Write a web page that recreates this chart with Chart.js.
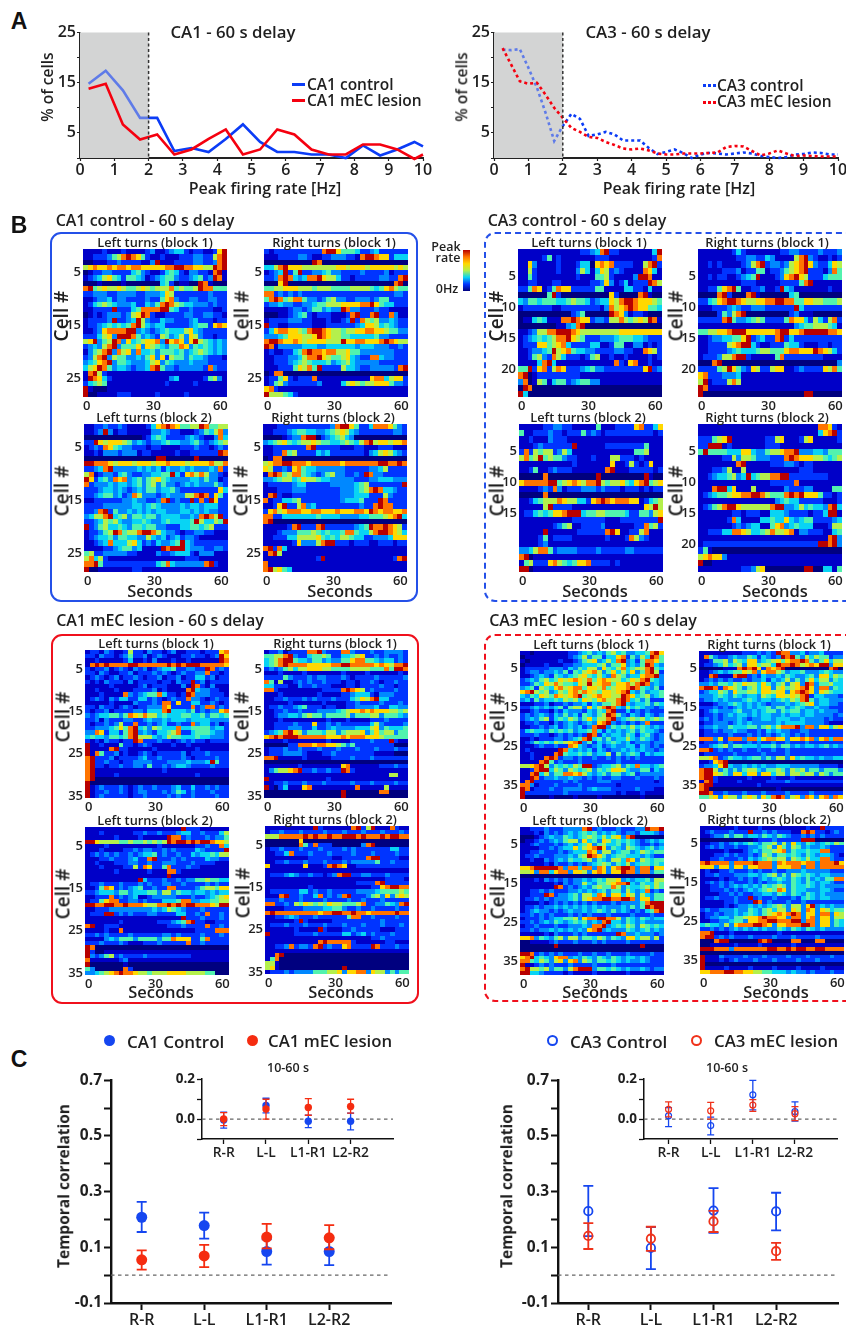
<!DOCTYPE html>
<html>
<head>
<meta charset="utf-8">
<title>Peak firing rate and temporal correlation</title>
<script src="https://cdn.jsdelivr.net/npm/chart.js@4"></script>
<style>
html, body { margin: 0; padding: 0; background: #fff; overflow: hidden; }
#page { position: relative; width: 846px; height: 1327px; overflow: hidden; font-family: "Open Sans", sans-serif; color: #1f1f1f; }
canvas { position: absolute; }
.txt { position: absolute; white-space: nowrap; transform: translate(-50%, -50%); font-weight: 600; line-height: 1; }
.box { position: absolute; box-sizing: border-box; border-radius: 11px; }
</style>
</head>
<body>
<div id="page"></div>
<script>
// panel A
const ca1Bins = [0.25, 0.75, 1.25, 1.75, 2.25, 2.75, 3.25, 3.75, 4.25, 4.75, 5.25, 5.75, 6.25, 6.75, 7.25, 7.75, 8.25, 8.75, 9.25, 9.75, 10];
const ca1Control = [14.8, 17.4, 13.5, 8, 8, 1.4, 2, 1.2, 3.8, 6.7, 3.2, 1.2, 1.2, 0.7, 0.7, 0, 2.5, 0.5, 1.7, 3.2, 2.3];
const ca1Lesion = [13.8, 14.8, 6.7, 3.7, 4.7, 0.7, 1.7, 3.8, 5.7, 0.7, 1.7, 5.7, 4.7, 1.7, 0.7, 0.7, 2.7, 2.7, 1.7, -0.2, 0.7];
const ca3Bins = [0.25, 0.5, 0.75, 1, 1.25, 1.5, 1.75, 2, 2.25, 2.5, 2.75, 3, 3.25, 3.5, 3.75, 4, 4.25, 4.5, 4.75, 5, 5.25, 5.5, 5.75, 6, 6.25, 6.5, 6.75, 7, 7.25, 7.5, 7.75, 8, 8.25, 8.5, 8.75, 9, 9.25, 9.5, 9.75, 10];
const ca3Control = [21.6, 21.5, 21.7, 18, 14, 9, 3.4, 6.4, 8.8, 7.8, 4.4, 4.7, 5.2, 4.7, 3.5, 3.5, 3.5, 2, 0.8, 1.2, 1.7, 1, 0, 0.7, 1, 0.9, 0.7, 0.9, 1.1, 0.9, 0.4, 0.2, 0, 0.2, 0.7, 0.8, 1.1, 1, 0.7, 0.7];
const ca3Lesion = [21.9, 18.6, 15.3, 14.8, 15, 12.6, 10, 8, 6, 5.2, 4.2, 4, 3.2, 2.6, 1.9, 1.7, 1.9, 1.5, 0.9, 0.7, 0.7, 0.9, 0.9, 0.9, 1, 1.1, 2.2, 2.4, 2.3, 1.4, 0.5, 0.9, 1.5, 0.9, 0.4, 0.5, 0.4, 0.3, 0.3, 0.3];

// panel B, one string per cell, one digit per time bin (0 = no firing, 9 = peak)
const ca1CtrlL1 = [
'111121112111123112344212211279','112223568987521121112223322689','001112232222113911122223322389','678778788788777778899887766989',
'012233222245321124542133221891','123467542554312345532234523981','000100001000000045201100981000','895676676556765666856556988555',
'223332233332233347622222223222','112334233222232257832233223322','124565433342243589865443332322','112222922245888899542232222112',
'012123332367982112222332233221','122223922349632243322234222122','122345454589643442222234552787','112378888993432345444674322222',
'222467399985343265346376322122','679356983745677839787379654343','234368935557376543558735454343','135689386738445355545345654343',
'236893655334357372655354432221','345789355433346735433343332222','467985344323348953323333328322','189621111111111111111111111111',
'198742111111111111341111125631','245651111111111112111112111111','910001111111111111111111111111','900111122211111211111211111111'];
const ca1CtrlR1 = [
'212222222222899755542234222222','111222233211223332218998772444','000000000098000000000000000000','446897776666666776777677777676',
'123492592233453322223222231222','223898434889766422122222332289','000790000000000000000000000890','556677766656665555666654578655',
'882323232222222222222222222332','589856885332356332233323552222','233433223345566677778897544222','111112332355343398332223221111',
'000112345212221112892289228311','122223332211121123928656334322','922112222211122222234776454322','247887765899876656677887765533',
'333457776679876655444445332222','899877876777766697788777898766','981333334443344444434443332232','121122458988788667553333333222',
'112223346889765567432288433222','112223456544453456433333222222','111222576859222264432233333289','018800000000000000000000000000',
'122572122281111111111178846772','125632222223111146765667775332','782111111111111111111111111111','966654211111111111111111111111'];
const ca1CtrlL2 = [
'112232232111124789875566985566','112393122111113343221112354683','000000000000124542222343211384','229767776534323345443345323456',
'123287543322212211112223221232','112133323331221111121122222298','000000000000000990000009000000','998887677767776778777677778668',
'223489333334343424334343334382','681233245322334455942786863321','972453878345356754333344353312','823334344345356353323434333532',
'222344343234355344532222222274','223455342386333234333668982752','112222223343322389232292829722','222233333344345433334344344422',
'223892533434343443334434343322','346689456355455344443343898692','223465643344543345444459644659','923564454355455332224455456222',
'122356985668998643321223322111','123445355443364342342332111111','112348444674232433459432222222','111122345534111198999433322332',
'562233333221111322344421333111','684621111111111111111222111111','889522222222222458433333389211','900111111122111111111111111111'];
const ca1CtrlR2 = [
'111222222222223899752248887532','112223455443345676432222222332','000012338990234564300000000000','345675456676554456546896776778',
'112222222892222211122111222111','112285622224342222222134676432','018800000000000000000000000000','678899888788888878888888998898',
'762232785443333332222233462222','189856885432356332232983322222','334566457665443333322233444333','122222344222223333345622222229',
'111222333222222233345689844322','189211222222222233344422263222','812244562222222234445222982222','112792268342222222223228988222',
'278678887788777877788798788778','882244444445444433334455567894','890000000000000000000000000000','111112892228922222234598898762',
'111233355565454458854468998764','112224466667545466544223334777','111111273336899222122211222122','892841111111111111111111111111',
'189611111111111111111111111111','111111111112911111111111111289','811111111111111111111111111111','896754111111111111111111111111'];
const ca3CtrlL1 = [
'111111111111122348922111111149','111112512111111122211111111128','117311112111244078782222116892','116211112111364147623211118741',
'115211111111211155621111399811','112211122111111223731241222986','225871258772222255111144221411','000000592000000000072000089100',
'435545554456554234476899877765','122222211222222221386789877554','000000000002350000098731221000','011454111889877233266865676981',
'000000001134890000000000000000','112366889998766666666777777777','123454568897652223334555443222','122277567842222441125511331212',
'112334596785443322223322118762','112563286422212561121121111212','111148941111111111118217811211','559278268722234533222222227923',
'890122222222211111111111111111','380165145523455331111111111111','098000000000000000000000000000','940000000000000000000000000000'];
const ca3CtrlR1 = [
'111111124211111112233222232223','111111112233224311116893211212','112121111236892332367897322476','111112223122551223567892221385',
'112122112345911123789762224555','111111111222111112222589111111','112257895112231129431111111211','000089200089100000045000000000',
'224578998766778899885577665556','111222343223332222229422222222','000025368900000000023111000000','222228953345652222587742642682',
'111111111111111111113455666541','556677899977777789977899999887','112334455792342289242222222222','112222678994211222544211122122',
'112222345444566555788777987642','122236689921111158222222221111','000890000000000000000000000003','222256975327622677112322227685',
'782223334111111111111111111111','691222686111111111111111111111','981111111111111111111111111111','900000000000000000000099000000'];
const ca3CtrlL2 = [
'111112233221111151112222782247','511222322122252321222222222212','112111322211111111111111111111','111232222229111111222222225111',
'282656623641111111111111556111','685695655322111211166222121111','111111111112111111171126212711','112511232221111111891112222212',
'000008000000000090000000009100','788888995678768896566754789567','111123283122233323222122212122','000008000000000000000000000000',
'112456668766442789878887712456','111116922221111111111111117696','122454577899945566555542255367','111111111112222222111222222229',
'111111123561122223111111228562','111119111111222222897112268111','111125122221111111211128632111','111123111111111111111111111111',
'334688523333222232222233222222','890111111111111111111111111111','156222786545778222212111111111','990111111111111111111111111111'];
const ca3CtrlR2 = [
'111111111111111111111111188721','111111111111111111111111147892','222567911111112267111267111112','229991211111112221111111111111',
'595555444774335667889333443555','111112263665333222898777665456','111111118911111222332122111111','111223611611111111111222111111',
'112344563494566889922222222111','111111111111111222228111111111','111899471116111111322233111155','123455677889986555898977752212',
'111111111111111134544222221112','123568997666666899334645443894','111111122122211444322221224991','111111284111144544743455222234',
'111111123234411578345444111266','112224488764456866781332221145','111111111111111111111111111893','122222222222222222222222299893',
'251000000000000000000000000000','678773111111111111111111111111','900111111111111111111111111111','111111111223670000000099004415'];
const ca1LesionL1 = [
'122132112622132212311222122278','221322123522312321112232212397','112111112411213111211211111198','189898888998888889898999888887',
'212231232132312344522332298232','221321122312223232123223382212','123212312232122312231224423122','212132221312222122132292312222',
'111112111112312221113198213111','112111211122223121111894332211','111211118323455842212983332221','123213244224423212322833212322',
'111112111132223288272244223212','221322123212233387222282388232','212231222233244489444352323378','323445535876866454445544535545',
'223132223322343343444344443333','212232362282232342232283442312','223334575894536544484455553442','338724425893432445682245554332',
'454435545896664346554445443332','212132212298222322123232212222','911211152212321111211211111111','911118922111112111111112111111',
'918522312112321222223122232222','892223122223422322223212222322','892232212233332223333433349522','892212232233252232344322223222',
'891111111111111121111111111111','891111211111111111111112111111','890000000000000000000000000000','900000000000000000000000000000',
'912322232123223222342242232322','912232232123322232354232223222','912322222122322223232232222322'];
const ca1LesionR1 = [
'122312222889322288322232233332','556689322455652244567223232232','456899544355343355788554344232','456898888777778899888887876889',
'232356466777665555666655585998','111211112111111121111211111121','222253222323322232122223222223','851611232322322212212232122322',
'442221132232221112212222322122','882111111111222289876232222322','111211111112111122344421333222','112232223232223222457689442222',
'111112111111211112232222322232','122322345222122112233334224433','112232232223333456778787776656','112334435655355556355566355543',
'111211111111121112111122232222','112222322272232322222246322223','112223332242234333344467354445','234589763555466356667357566355',
'789899988888877787888777655555','111121111111121111222232229211','000002288878877653522222222000','122232232223222322232223222322',
'122233332111223222222221111000','889111112111112222322232222222','000000000000000000000000000000','111111121111111178111111222322',
'135667892232232298211111111111','111111111111111111111111116611','911111111111121111111111111111','112232223222322222322232222322',
'910241117811111111181111161111','000000000000000090000000880000','000000000000000090000000000000'];
const ca1LesionL2 = [
'111111111111111111119222111111','111211111122322322234422322246','111111211112111119882322232335','997666655655656569899898998776',
'111121111111111211111112232284','111211112232332232322224322229','123232322323445232232243445466','111223222342289222323222243322',
'112111222332232233322232222111','111211112262872258222322111111','111111211111121118821111111111','111111111111111119111111111111',
'111111111119422232232335565544','122322232223232233223222232322','112587232345223228822223566577','223444355344455366354434434344',
'112228232341123333322232234567','122578822332322244458833445566','998899889888766889898998887699','112223333333334346543222322222',
'122299232322233222244223282232','111111111111111111119222322232','111111121111111222345892211222','891122211111111112223222282232',
'111121181111111111111112222888','223232222322222233232222322232','111134355535555355877722582222','222322232111222322222822322222',
'980000000000000000000000000000','920011111111111111111111111111','932356232222322222222211111111','811111123111111111111111111111',
'900000001000000000000000000000','530000008200000000000000000000','334567898876656667777666655000'];
const ca1LesionR2 = [
'111111111192111111892691118211','122322232222322232223222322232','666888889898898899989888989988','000000070000000000000000000000',
'000000085282220000003890000000','122322232223222232322222224422','112248222322232222322232222322','111111111222221122222899222211',
'112232223222322232333335223222','711111117111289871122222222222','111111111111111111111111111111','122234322322123899223322232222',
'111111111111111111111111122221','111111111111111111122228922222','111111111211111111111122789988','122222244232232222233334555565',
'111892232248232389222356373676','222322232222322223223222322222','882232657656576655568223354389','111122223333445532232232222322',
'898888888887889988988788888988','112234322232222225882232222322','111111292111112222222222322222','122232223222322232223222322232',
'111111211119211122322222111222','911111222232222244234232223222','111111111111111111111122322222','111111111118988888211111122111',
'112238233289232278222298222322','111111111111111111111111111111','118900000000000000000000000000','158000000000000000000000000000',
'661000000000000000000000000000','671000000000000090000000000000','122232333355566737788376635355'];
const ca3LesionL1 = [
'110111111122345343564533445897','011111111123463552447825364985','101111112112356734648934258875','011112111223344456355734359843',
'122222333243546637546845668954','123323343525467863574647358962','112343254345675464386534478893','234356457678768578766457689543',
'223547686554769678857786898343','345265478678857768567789854352','789656346578687657767894353445','435476587678956787766987456345',
'342534454656476578668984535222','111223122323342435568943445354','223434345256637468984364543323','112322132433324354892242323222',
'232343243534254356985324324323','234356245465357466893456564565','122322132343234378932323238222','112232342343423899354546454343',
'245443545453445842434345354432','222322123232329824344354245323','112122233234589453534464354323','123545465678935243454342333233',
'111232232287432342343344243232','121111119843434243233434343323','112111189544545344625345424344','112118982332322322323232322222',
'111189523222322222223222222222','667896354546599234456354844345','112899465365456354577643355243','118946355887864345355345233333',
'119823343343323232233222322232','189222222323222233322222222212','883122232222322222221222222222','981222322333323433322222322211',
'922222222322222222221211121111','900000100001000010000000010000'];
const ca3LesionR1 = [
'111111111222323298833423342222','185322343354243239895364655233','112556365477345675788985357466','122346456377566498898678799377',
'000001118989728789000000000890','112343455768378865344533345433','118911189923243343543345377465','123232322323342434635357466354',
'334355465766475356367398355644','899828765356477367567897388354','234465375566477677378987376544','333454354344365477676892443332',
'233434333454344345465895344333','111233454343432333434567344332','222323234343445355345433433222','123433345334345535455344343332',
'122323434434344334344344333323','232323334323344344433433332322','122333234343333343444433332111','233433544455356468889388377467',
'122323343322324343322332222222','122222322232323234323232222222','888372888388478877377878378488','122232322232322322322232222222',
'223456355444344535534344345343','889232322322322322322222222222','122222232222232222322222222222','667823544345535366374544343344',
'112789000000000000000000000000','233479433434343344433333322221','899635353566435565365635535553','899765377477377466366566365355',
'899211111121111211121111111111','189211112111112222322222222222','899111111111211111111111111111','890000000000000010000000000000',
'998223222322232222322223222222','556737663676375898367387378387'];
const ca3LesionL2 = [
'112223222333389232223222339889','111213232343454534343233244432','000123433543456546467389000000','011232343566374537645454323434',
'112322232343457356445354322323','111122323447467897354365434534','112232223234448736634553465455','122322233343569875345544434322',
'112113234354456354366487365455','111112132232323456535463455454','778999998388488387378998388277','667388478837763787377988388355',
'000000000000000000000000000000','111213232323343454667343445366','111111121323364355678894354465','111111198232343565586354456465',
'112232322233434345355364348232','112229823345366487377476364355','122323233345367889988998377355','111121232323232322232333358999',
'122323343434343434333435359899','123433232343343454353432324589','223232322232323222322223222322','122232344556378899886354354344',
'223234354345453438944354343333','122322232233343889345465365454','223233434343437893433354345343','111112132223232222229833433323',
'778354356366355465354377466362','001111232223222323222232222222','000000090000000000000000090000','000000000000000000000000000000',
'998232323222322322322232222322','789454378834354354354344343222','885465367378365355454343343222','911232322232222322232222222222',
'896656355368999355454343343233','994432222121111211111121111111'];
const ca3LesionR2 = [
'111111121111211111111121192222','123222322292232322211898221232','112335355344354354322323232222','000000000001222322222999000000',
'112232343454355636374354345465','123232232233456375365343343222','111112111234355678354454488222','111223232232365355454354344321',
'112232223243456566365464488322','898888388889888387888788388897','777377377377888377788388388888','121122322232322322333433333222',
'122322233344345635365454344333','111121223232343454354353435588','123232322232323343354354344322','112232343434354565354454343333',
'112223232343456587354433344322','111122323223344354354354343333','122322232292322322232454344333','111112232229823222322322222222',
'111112123343434565366379343433','232233343354356466376387376455','122323343454356787898377388376','123344355677898877388378377366',
'112233455377889988899388377354','454436378889987377888998377354','223232343434343354354354343333','889111211111111121111111111111',
'899232322232222322232222322222','000899000000989000088000880000','001111121111211111121111111111','999888388888889988989988998888',
'000000000000000000000000000000','911132222322232222322232222322','911121232223222322223222322222','900000000000000000000000000000',
'911112111121111211112111121111','778889988776655444343323222322'];

const cellTicksCtrl1 = [5, 15, 25];
const cellTicksCtrl3a = [5, 10, 15, 20];
const cellTicksCtrl3b = [5, 10, 15];
const cellTicksLesion1 = [5, 15, 25, 35];
const secondTicks = [0, 30, 60];
const jet = ['#00007f', '#0000c8', '#0034ff', '#0088ff', '#08d4f4', '#52f2ae', '#b4f04c', '#ffd800', '#ff7400', '#b80000'];

// panel C
const pairLabels = ['R-R', 'L-L', 'L1-R1', 'L2-R2'];
const ca1CtrlMean = [0.208, 0.178, 0.085, 0.085];
const ca1CtrlHi = [0.263, 0.225, 0.129, 0.134];
const ca1CtrlLo = [0.155, 0.131, 0.038, 0.036];
const ca1LesMean = [0.055, 0.069, 0.137, 0.134];
const ca1LesHi = [0.089, 0.109, 0.184, 0.18];
const ca1LesLo = [0.02, 0.029, 0.096, 0.093];
const ca1InCtrlMean = [-0.005, 0.068, -0.011, -0.011];
const ca1InCtrlHi = [0.035, 0.104, 0.02, 0.03];
const ca1InCtrlLo = [-0.046, 0.031, -0.043, -0.054];
const ca1InLesMean = [0, 0.05, 0.058, 0.063];
const ca1InLesHi = [0.032, 0.099, 0.102, 0.099];
const ca1InLesLo = [-0.033, 0, 0.019, 0.03];
const ca3CtrlMean = [0.23, 0.098, 0.232, 0.229];
const ca3CtrlHi = [0.321, 0.173, 0.313, 0.296];
const ca3CtrlLo = [0.14, 0.022, 0.152, 0.161];
const ca3LesMean = [0.141, 0.131, 0.193, 0.086];
const ca3LesHi = [0.187, 0.174, 0.231, 0.116];
const ca3LesLo = [0.094, 0.087, 0.155, 0.055];
const ca3InCtrlMean = [0.016, -0.033, 0.121, 0.037];
const ca3InCtrlHi = [0.057, 0.01, 0.194, 0.086];
const ca3InCtrlLo = [-0.038, -0.079, 0.046, -0.01];
const ca3InLesMean = [0.049, 0.041, 0.07, 0.027];
const ca3InLesHi = [0.086, 0.083, 0.097, 0.062];
const ca3InLesLo = [0.011, 0, 0.038, -0.008];

const BLUE = '#0b3cf6';
const RED = '#f5000f';
const DOT_BLUE = '#1546f0';
const DOT_RED = '#f52c10';
const INK = '#1f1f1f';
const FONT = '"Open Sans", sans-serif';

const page = document.getElementById('page');
Chart.defaults.animation = false;
Chart.defaults.responsive = false;
Chart.defaults.devicePixelRatio = 1;
Chart.defaults.plugins.legend.display = false;
Chart.defaults.plugins.tooltip.enabled = false;
Chart.defaults.font.family = FONT;
Chart.defaults.color = INK;

function label(text, x, y, size, extra) {
    const d = document.createElement('div');
    d.className = 'txt';
    d.textContent = text;
    d.style.left = x + 'px';
    d.style.top = y + 'px';
    d.style.fontSize = size + 'px';
    Object.assign(d.style, extra || {});
    page.appendChild(d);
    return d;
}

function frame(x, y, w, h, border) {
    const d = document.createElement('div');
    d.className = 'box';
    d.style.cssText = 'left:' + x + 'px;top:' + y + 'px;width:' + w + 'px;height:' + h + 'px;border:' + border;
    page.appendChild(d);
}

// canvas placed so that the plot area lands on x0..x1, y0..y1
function makeCanvas(x0, y0, x1, y1, m) {
    const c = document.createElement('canvas');
    c.width = x1 - x0 + m.l + m.r;
    c.height = y1 - y0 + m.t + m.b;
    c.style.left = (x0 - m.l) + 'px';
    c.style.top = (y0 - m.t) + 'px';
    page.appendChild(c);
    return c;
}

const fit = (size) => (s) => { if (s.isHorizontal()) s.height = size; else s.width = size; };

// panel A
const shadePlugin = {
    id: 'shade',
    beforeDatasetsDraw(chart) {
        const { ctx, chartArea: a, scales: { x } } = chart;
        ctx.fillStyle = '#d3d5d4';
        ctx.fillRect(a.left, a.top, x.getPixelForValue(2) - a.left, a.bottom - a.top);
    },
    afterDatasetDraw(chart, args) {
        // grey sits over the control trace but under the lesion trace
        if (args.index !== 1) return;
        const { ctx, chartArea: a, scales: { x } } = chart;
        ctx.fillStyle = 'rgba(211,213,212,0.42)';
        ctx.fillRect(a.left, a.top, x.getPixelForValue(2) - a.left, a.bottom - a.top);
    },
    afterDatasetsDraw(chart) {
        const { ctx, chartArea: a, scales: { x } } = chart;
        ctx.save();
        ctx.strokeStyle = '#333';
        ctx.lineWidth = 1.5;
        ctx.setLineDash([3, 2.5]);
        ctx.beginPath();
        ctx.moveTo(x.getPixelForValue(2), a.top);
        ctx.lineTo(x.getPixelForValue(2), a.bottom);
        ctx.stroke();
        ctx.restore();
    }
};

function ratePlot(x0, x1, bins, control, lesion, dash) {
    const m = { l: 26, r: 10, t: 10, b: 24 };
    const toPts = (vals) => vals.map((v, i) => ({ x: bins[i], y: v }));
    new Chart(makeCanvas(x0, 32, x1, 158, m), {
        type: 'scatter',
        data: { datasets: [
            { data: toPts(lesion), showLine: true, borderColor: RED, borderWidth: 2.6, pointRadius: 0, borderDash: dash, clip: false },
            { data: toPts(control), showLine: true, borderColor: BLUE, borderWidth: 2.6, pointRadius: 0, borderDash: dash, clip: false }
        ] },
        options: {
            layout: { padding: { top: m.t, right: m.r } },
            scales: {
                x: {
                    type: 'linear', min: 0, max: 10, afterFit: fit(m.b),
                    ticks: { stepSize: 1, font: { size: 16, weight: 600 }, padding: 0, maxRotation: 0 },
                    grid: { drawOnChartArea: false, tickLength: 3, color: '#222', tickWidth: 1.2 },
                    border: { color: '#222', width: 2 }
                },
                y: {
                    min: 0, max: 25, afterFit: fit(m.l),
                    ticks: { stepSize: 5, font: { size: 16, weight: 600 }, padding: 1, callback: (v) => (v === 5 || v === 15 || v === 25) ? v : '' },
                    grid: { drawOnChartArea: false, tickLength: 3, color: '#222', tickWidth: 1.2 },
                    border: { color: '#222', width: 1.6 }
                }
            }
        },
        plugins: [shadePlugin]
    });
}

ratePlot(80, 423, ca1Bins, ca1Control, ca1Lesion, []);
ratePlot(494, 838, ca3Bins, ca3Control, ca3Lesion, [3, 3]);

// panel B
const T_MIN = -1.7;
const T_MAX = 63;

const cellPlugin = {
    id: 'cells',
    beforeDatasetsDraw(chart) {
        const { ctx, scales: { x, y } } = chart;
        const ds = chart.data.datasets[0];
        ds.data.forEach((p) => {
            const left = Math.round(x.getPixelForValue(p.x - ds.binWidth / 2));
            const right = Math.round(x.getPixelForValue(p.x + ds.binWidth / 2));
            const top = Math.round(y.getPixelForValue(p.y - 0.5));
            const bottom = Math.round(y.getPixelForValue(p.y + 0.5));
            ctx.fillStyle = jet[p.v];
            ctx.fillRect(left, top, right - left, bottom - top);
        });
    }
};

function heatmap(rows, x0, y0, yTicks) {
    const m = { l: 24, r: 6, t: 12, b: 18 };
    const binWidth = (T_MAX - T_MIN) / 30;
    const pts = [];
    rows.forEach((row, r) => {
        for (let c = 0; c < row.length; c++) {
            pts.push({ x: T_MIN + (c + 0.5) * binWidth, y: r + 1, v: +row[c] });
        }
    });
    new Chart(makeCanvas(x0, y0, x0 + 144, y0 + 148, m), {
        type: 'scatter',
        data: { datasets: [{ data: pts, pointRadius: 0, binWidth: binWidth }] },
        options: {
            layout: { padding: { top: m.t, right: m.r } },
            scales: {
                x: {
                    type: 'linear', min: T_MIN, max: T_MAX, afterFit: fit(m.b),
                    afterBuildTicks: (a) => { a.ticks = secondTicks.map((v) => ({ value: v })); },
                    ticks: { font: { size: 13, weight: 600 }, padding: 1, maxRotation: 0, autoSkip: false },
                    grid: { display: false, drawTicks: false }, border: { display: false }
                },
                y: {
                    reverse: true, min: 0.5, max: rows.length + 0.5, afterFit: fit(m.l),
                    afterBuildTicks: (a) => { a.ticks = yTicks.map((v) => ({ value: v })); },
                    ticks: { font: { size: 13, weight: 600 }, padding: 2, autoSkip: false },
                    grid: { display: false, drawTicks: false }, border: { display: false }
                }
            }
        },
        plugins: [cellPlugin]
    });
}

const heatmaps = [
    [ca1CtrlL1, 83, 249, cellTicksCtrl1, 'Left turns (block 1)', 155],
    [ca1CtrlR1, 264, 249, cellTicksCtrl1, 'Right turns (block 1)', 334],
    [ca1CtrlL2, 84, 424, cellTicksCtrl1, 'Left turns (block 2)', 154],
    [ca1CtrlR2, 263, 424, cellTicksCtrl1, 'Right turns (block 2)', 333],
    [ca3CtrlL1, 518, 249, cellTicksCtrl3a, 'Left turns (block 1)', 589],
    [ca3CtrlR1, 698, 249, cellTicksCtrl3a, 'Right turns (block 1)', 767],
    [ca3CtrlL2, 519, 424, cellTicksCtrl3b, 'Left turns (block 2)', 588],
    [ca3CtrlR2, 698, 424, cellTicksCtrl3a, 'Right turns (block 2)', 767],
    [ca1LesionL1, 85, 650, cellTicksLesion1, 'Left turns (block 1)', 156],
    [ca1LesionR1, 264, 650, cellTicksLesion1, 'Right turns (block 1)', 335],
    [ca1LesionL2, 85, 827, cellTicksLesion1, 'Left turns (block 2)', 155],
    [ca1LesionR2, 265, 826, cellTicksLesion1, 'Right turns (block 2)', 335],
    [ca3LesionL1, 520, 651, cellTicksLesion1, 'Left turns (block 1)', 591],
    [ca3LesionR1, 699, 651, cellTicksLesion1, 'Right turns (block 1)', 769],
    [ca3LesionL2, 520, 827, cellTicksLesion1, 'Left turns (block 2)', 590],
    [ca3LesionR2, 700, 826, cellTicksLesion1, 'Right turns (block 2)', 769]
];
heatmaps.forEach(([rows, x, y, ticks, title, tx]) => {
    heatmap(rows, x, y, ticks);
    label(title, tx, y - 7, 12.8);
    label('Cell #', x - 22, y + 67, 19, { transform: 'translate(-50%, -50%) rotate(-90deg)' });
});
[[160, 590.5], [340, 590.5], [595, 590.5], [775, 590.5], [161, 992], [341, 992], [595, 992], [776, 992]].forEach(([x, y]) => label('Seconds', x, y, 16.5));

frame(50, 232, 368, 370, '2px solid #2450e8');
frame(484, 232, 380, 370, '2px dashed #2450e8');
frame(51, 634, 368, 370, '2px solid #f0101c');
frame(484, 634, 380, 368, '2px dashed #f0101c');

label('CA1 control - 60 s delay', 145, 220, 16);
label('CA3 control - 60 s delay', 577, 220, 16);
label('CA1 mEC lesion - 60 s delay', 160, 620, 16);
label('CA3 mEC lesion - 60 s delay', 593, 620, 16);

const bar = document.createElement('div');
bar.style.cssText = 'position:absolute;left:463px;top:250px;width:7px;height:41px;background:linear-gradient(to top,#00007f,#0034ff,#08d4f4,#b4f04c,#ffd800,#ff7400,#b80000)';
page.appendChild(bar);
label('Peak', 446, 247, 12.5);
label('rate', 448, 258, 12.5);
label('0Hz', 447, 289, 12.5);

// panel A text
label('A', 19, 21, 23, { fontWeight: 700, fontFamily: 'Liberation Sans', color: '#111' });
label('B', 19, 225, 23, { fontWeight: 700, fontFamily: 'Liberation Sans', color: '#111' });
label('C', 19, 1059, 23, { fontWeight: 700, fontFamily: 'Liberation Sans', color: '#111' });
label('CA1  - 60 s delay', 233, 32, 16.8);
label('CA3  - 60 s delay', 648, 32, 16.8);
label('% of cells', 48, 87, 15.5, { transform: 'translate(-50%, -50%) rotate(-90deg)' });
label('% of cells', 462, 87, 15.5, { transform: 'translate(-50%, -50%) rotate(-90deg)' });
label('Peak firing rate [Hz]', 265, 188, 16);
label('Peak firing rate [Hz]', 679, 188, 16);

function legendLine(x, y, color, dashed) {
    const d = document.createElement('div');
    d.style.cssText = 'position:absolute;left:' + x + 'px;top:' + (y - 1) + 'px;width:13px;height:0;border-top:3px ' + (dashed ? 'dotted ' : 'solid ') + color;
    page.appendChild(d);
}
legendLine(292, 84, BLUE, false);
legendLine(292, 100, RED, false);
legendLine(703, 85, BLUE, true);
legendLine(703, 102, RED, true);
label('CA1 control', 307, 85, 15.5, { transform: 'translate(0, -50%)' });
label('CA1 mEC lesion', 307, 101, 15.5, { transform: 'translate(0, -50%)' });
label('CA3 control', 717, 86, 15.5, { transform: 'translate(0, -50%)' });
label('CA3 mEC lesion', 717, 102, 15.5, { transform: 'translate(0, -50%)' });

// panel C
const pointPlugin = {
    id: 'whiskers',
    beforeDatasetsDraw(chart) {
        const { ctx, chartArea: a, scales: { y } } = chart;
        ctx.save();
        ctx.strokeStyle = '#666';
        ctx.lineWidth = 1.2;
        ctx.setLineDash([3.5, 3.5]);
        ctx.beginPath();
        ctx.moveTo(a.left, y.getPixelForValue(0));
        ctx.lineTo(a.right, y.getPixelForValue(0));
        ctx.stroke();
        ctx.restore();
    },
    beforeDatasetDraw(chart, args) {
        const { ctx, scales: { x, y } } = chart;
        const ds = chart.data.datasets[args.index];
        ctx.save();
        ctx.strokeStyle = ds.borderColor;
        ctx.lineWidth = ds.whiskerWidth;
        ds.lo.forEach((lo, i) => {
            const px = x.getPixelForValue(i);
            const yLo = y.getPixelForValue(lo);
            const yHi = y.getPixelForValue(ds.hi[i]);
            ctx.beginPath();
            ctx.moveTo(px, yLo); ctx.lineTo(px, yHi);
            ctx.moveTo(px - ds.cap, yLo); ctx.lineTo(px + ds.cap, yLo);
            ctx.moveTo(px - ds.cap, yHi); ctx.lineTo(px + ds.cap, yHi);
            ctx.stroke();
        });
        ctx.restore();
    }
};

function pointPlot(o) {
    const pts = (vals) => vals.map((v, i) => ({ x: i, y: v }));
    const style = (color, means, lo, hi) => ({
        data: pts(means), lo: lo, hi: hi,
        borderColor: color,
        whiskerWidth: o.inset ? 1.3 : 1.8,
        cap: o.inset ? 3.5 : 5,
        pointRadius: o.radius,
        pointBorderWidth: o.open ? (o.inset ? 1.2 : 1.8) : 0,
        pointBackgroundColor: o.open ? 'rgba(0,0,0,0)' : color,
        pointBorderColor: color
    });
    const m = o.m;
    new Chart(makeCanvas(o.x0, o.y0, o.x1, o.y1, m), {
        type: 'scatter',
        data: { datasets: [
            style(o.open ? '#f0321a' : DOT_RED, o.les, o.lesLo, o.lesHi),
            style(o.open ? '#1546f0' : DOT_BLUE, o.ctrl, o.ctrlLo, o.ctrlHi)
        ] },
        options: {
            layout: { padding: { top: m.t, right: m.r } },
            scales: {
                x: {
                    type: 'linear', min: (o.x0 - o.first) / o.step, max: (o.x1 - o.first) / o.step, afterFit: fit(m.b),
                    afterBuildTicks: (a) => { a.ticks = pairLabels.map((_, i) => ({ value: i })); },
                    ticks: { font: { size: o.inset ? 13.8 : 16, weight: 600 }, padding: 1, maxRotation: 0, autoSkip: false, callback: (v) => pairLabels[v] },
                    grid: { drawOnChartArea: false, tickLength: o.inset ? 5 : 7, color: '#111', tickWidth: o.inset ? 1.3 : 2 },
                    border: { color: '#111', width: o.inset ? 1.5 : 2.4 }
                },
                y: {
                    min: o.yMin, max: o.yMax, afterFit: fit(m.l),
                    ticks: { stepSize: 0.1, font: { size: o.inset ? 13.5 : 15.5, weight: 700 }, padding: 2, autoSkip: false,
                        callback: (v) => o.yLabels.includes(v.toFixed(1)) ? v.toFixed(1) : '' },
                    grid: { drawOnChartArea: false, tickLength: o.inset ? 5 : 7, color: '#111', tickWidth: o.inset ? 1.3 : 2 },
                    border: { color: '#111', width: o.inset ? 1.5 : 2.4 }
                }
            }
        },
        plugins: [pointPlugin]
    });
}

const mainLabels = ['0.7', '0.5', '0.3', '0.1', '-0.1'];
const insetLabels = ['0.2', '0.0'];
const mainM = { l: 42, r: 6, t: 8, b: 24 };
const insetM = { l: 36, r: 4, t: 8, b: 22 };

pointPlot({ x0: 111, x1: 391, y0: 1077, y1: 1303, first: 141.7, step: 62.5, yMin: -0.1, yMax: 0.7, yLabels: mainLabels, m: mainM, radius: 5.5,
    ctrl: ca1CtrlMean, ctrlLo: ca1CtrlLo, ctrlHi: ca1CtrlHi, les: ca1LesMean, lesLo: ca1LesLo, lesHi: ca1LesHi });
pointPlot({ x0: 202, x1: 393, y0: 1077, y1: 1139, first: 223.7, step: 42.3, yMin: -0.1, yMax: 0.2, yLabels: insetLabels, m: insetM, radius: 3.7, inset: true,
    ctrl: ca1InCtrlMean, ctrlLo: ca1InCtrlLo, ctrlHi: ca1InCtrlHi, les: ca1InLesMean, lesLo: ca1InLesLo, lesHi: ca1InLesHi });
pointPlot({ x0: 558, x1: 838, y0: 1077, y1: 1303, first: 588.3, step: 62.6, yMin: -0.1, yMax: 0.7, yLabels: mainLabels, m: mainM, radius: 4.2, open: true,
    ctrl: ca3CtrlMean, ctrlLo: ca3CtrlLo, ctrlHi: ca3CtrlHi, les: ca3LesMean, lesLo: ca3LesLo, lesHi: ca3LesHi });
pointPlot({ x0: 644, x1: 839, y0: 1077, y1: 1139, first: 668.7, step: 42.4, yMin: -0.1, yMax: 0.2, yLabels: insetLabels, m: insetM, radius: 3, open: true, inset: true,
    ctrl: ca3InCtrlMean, ctrlLo: ca3InCtrlLo, ctrlHi: ca3InCtrlHi, les: ca3InLesMean, lesLo: ca3InLesLo, lesHi: ca3InLesHi });

label('Temporal correlation', 64, 1186, 15.5, { transform: 'translate(-50%, -50%) rotate(-90deg)', fontWeight: 700 });
label('Temporal correlation', 507, 1186, 15.5, { transform: 'translate(-50%, -50%) rotate(-90deg)', fontWeight: 700 });
label('10-60 s', 288, 1068, 12.5);
label('10-60 s', 727, 1068, 12.5);

function legendDot(x, y, color, open) {
    const d = document.createElement('div');
    d.style.cssText = 'position:absolute;box-sizing:border-box;left:' + (x - 5.5) + 'px;top:' + (y - 5.5) + 'px;width:11px;height:11px;border-radius:50%;border:2px solid ' + color + ';background:' + (open ? 'transparent' : color);
    page.appendChild(d);
}
legendDot(109, 1040, DOT_BLUE, false);
legendDot(252, 1040, DOT_RED, false);
legendDot(552, 1040, DOT_BLUE, true);
legendDot(696, 1040, '#f0321a', true);
label('CA1 Control', 127, 1041, 17, { transform: 'translate(0, -50%)' });
label('CA1 mEC lesion', 268, 1041, 16.8, { transform: 'translate(0, -50%)' });
label('CA3 Control', 570, 1041, 17, { transform: 'translate(0, -50%)' });
label('CA3 mEC lesion', 714, 1041, 16.8, { transform: 'translate(0, -50%)' });
</script>
</body>
</html>
